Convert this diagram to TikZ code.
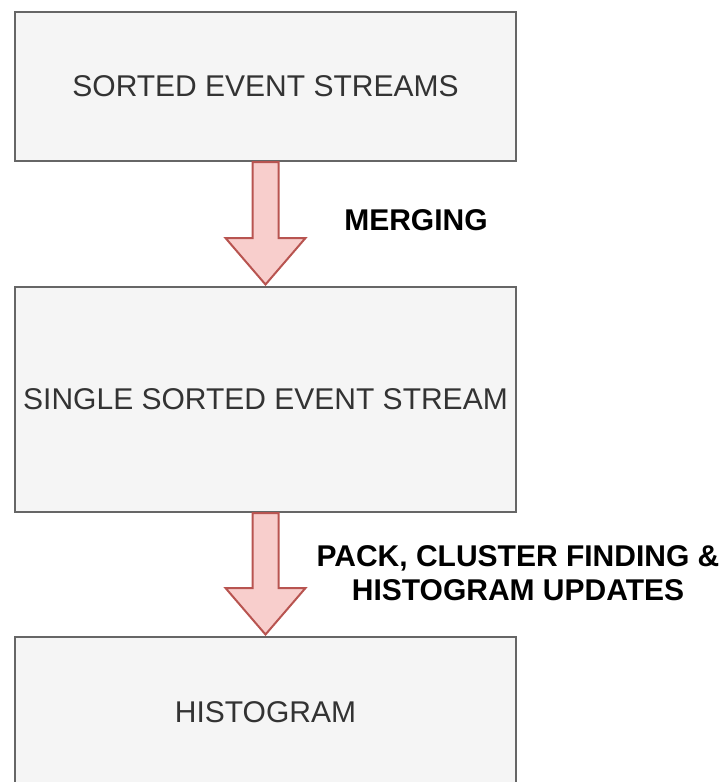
\documentclass[tikz,border=0pt]{standalone}
\usepackage{fontspec}
\setmainfont{Liberation Sans}
\usetikzlibrary{calc}
\definecolor{boxfill}{HTML}{F5F5F5}
\definecolor{boxline}{HTML}{666666}
\definecolor{boxtext}{HTML}{333333}
\definecolor{arrfill}{HTML}{F8CECC}
\definecolor{arrline}{HTML}{B85450}
\tikzset{
  stagebox/.style={draw=boxline, fill=boxfill, line width=2pt, rectangle,
    minimum width=501pt, text=boxtext, inner sep=0pt,
    font=\fontsize{30}{34}\selectfont},
  steplabel/.style={font=\fontsize{30}{34}\selectfont\bfseries, align=center, inner sep=0pt},
  barrow/.style={draw=arrline, fill=arrfill, line width=2pt, line join=miter}
}
% block arrow from the bottom of one box to the top of the next
\newcommand\blockarr[2]{%
  \draw[barrow] let \p1=(#1), \p2=(#2) in
    (\x1-13pt,\y1) -- (\x1+13pt,\y1) -- (\x1+13pt,\y2+48pt) --
    (\x1+40pt,\y2+48pt) -- (\x1,\y2+1.5pt) -- (\x1-40pt,\y2+48pt) --
    (\x1-13pt,\y2+48pt) -- cycle;}
\begin{document}
\begin{tikzpicture}[x=1pt,y=-1pt]
  \useasboundingbox (0,0) rectangle (723,782);
  \clip (0,0) rectangle (723,782);
  \node[stagebox, minimum height=149pt] (b1) at (265.5,86.5) {SORTED EVENT STREAMS};
  \node[stagebox, minimum height=225pt] (b2) at (265.5,399.5) {SINGLE SORTED EVENT STREAM};
  \node[stagebox, minimum height=150pt] (b3) at (265.5,712) {HISTOGRAM};
  \blockarr{b1.south}{b2.north}
  \blockarr{b2.south}{b3.north}
  \node[steplabel] (l1) at (416,220) {MERGING};
  \node[steplabel] (l2) at (518,573) {PACK, CLUSTER FINDING \&\\HISTOGRAM UPDATES};
\end{tikzpicture}
\end{document}
